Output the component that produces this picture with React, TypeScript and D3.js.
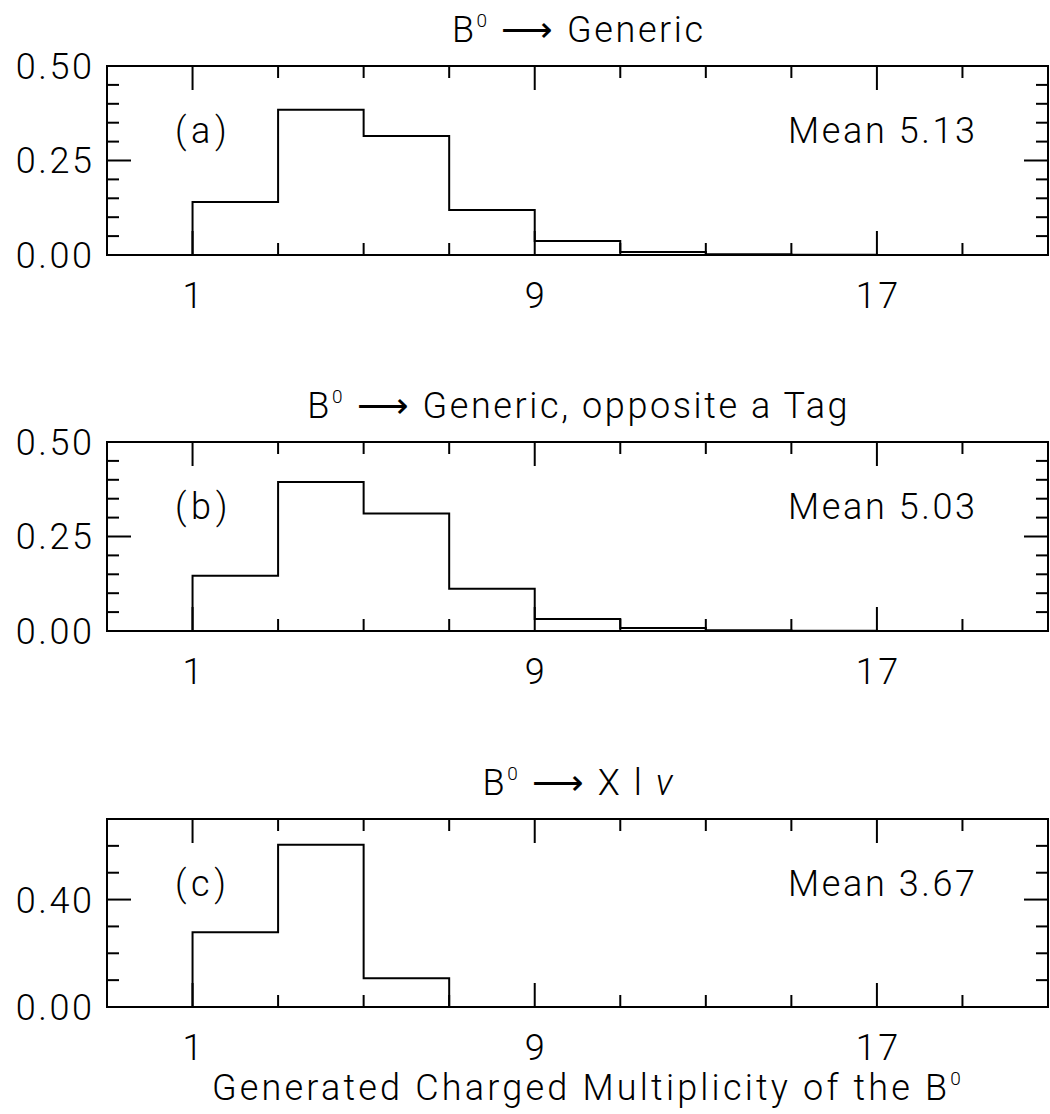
import React from "react";
import * as d3 from "d3";

const binStart = 1;
const binWidth = 2;
const valuesA = [0.14, 0.384, 0.315, 0.119, 0.037, 0.008, 0.002, 0.0005, 0, 0];
const valuesB = [0.146, 0.394, 0.311, 0.112, 0.032, 0.008, 0.002, 0.0005, 0, 0];
const valuesC = [0.278, 0.604, 0.107, 0, 0, 0, 0, 0, 0, 0];
const xTickMajor = [1, 9, 17];
const xTickAll = [1, 3, 5, 7, 9, 11, 13, 15, 17, 19];

const W = 1050;
const H = 1114;
const left = 107;
const right = 1048;
const FONT = "Roboto, 'Liberation Sans', sans-serif";
const FW = 300;
const LS = 2.6;

const x = d3.scaleLinear().domain([-1, 21]).range([left, right]);

type PanelProps = {
  top: number;
  bottom: number;
  values: number[];
  yMax: number;
  yMajor: number[];
  yMinorStep: number;
  yFmt: (v: number) => string;
  label: string;
  mean: string;
  title: React.ReactNode;
};

function Sup0() {
  return (
    <tspan dy={-15} fontSize={19}>
      0
    </tspan>
  );
}

function Panel(p: PanelProps) {
  const y = d3.scaleLinear().domain([0, p.yMax]).range([p.bottom, p.top]);
  const pts: [number, number][] = [[-1, 0]];
  p.values.forEach((v, i) => pts.push([binStart + i * binWidth, v]));
  pts.push([binStart + p.values.length * binWidth, p.values[p.values.length - 1]]);
  const line = d3
    .line<[number, number]>()
    .x((d) => x(d[0]))
    .y((d) => y(d[1]))
    .curve(d3.curveStepAfter);
  const nMinor = Math.round(p.yMax / p.yMinorStep);
  const yMinor = d3
    .range(1, nMinor + 1)
    .map((i) => +(i * p.yMinorStep).toFixed(4))
    .filter((v) => v < p.yMax - 1e-6);
  const isMajorY = (v: number) => p.yMajor.some((m) => Math.abs(m - v) < 1e-6);
  const major = 24;
  const minor = 12;
  return (
    <g>
      <text
        x={(left + right) / 2 + LS / 2}
        y={p.top - 24}
        textAnchor="middle"
        fontSize={36}
        fontFamily={FONT}
        fontWeight={FW}
        letterSpacing={LS}
      >
        {p.title}
      </text>
      <g stroke="#000" strokeWidth={2}>
        {xTickAll.map((t) => {
          const L = xTickMajor.includes(t) ? major : minor;
          return (
            <g key={t}>
              <line x1={x(t)} x2={x(t)} y1={p.bottom} y2={p.bottom - L} />
              <line x1={x(t)} x2={x(t)} y1={p.top} y2={p.top + L} />
            </g>
          );
        })}
        {yMinor.map((v) => {
          const L = isMajorY(v) ? major : minor;
          return (
            <g key={v}>
              <line x1={left} x2={left + L} y1={y(v)} y2={y(v)} />
              <line x1={right} x2={right - L} y1={y(v)} y2={y(v)} />
            </g>
          );
        })}
      </g>
      <path d={line(pts) || ""} fill="none" stroke="#000" strokeWidth={2} />
      <rect
        x={left}
        y={p.top}
        width={right - left}
        height={p.bottom - p.top}
        fill="none"
        stroke="#000"
        strokeWidth={2}
      />
      {p.yMajor.map((v) => (
        <text
          key={v}
          x={92 + LS}
          y={y(v)}
          dy="0.36em"
          textAnchor="end"
          fontSize={36}
          fontFamily={FONT}
          fontWeight={FW}
          letterSpacing={LS}
        >
          {p.yFmt(v)}
        </text>
      ))}
      {xTickMajor.map((t) => (
        <text
          key={t}
          x={x(t) + LS / 2}
          y={p.bottom + 53}
          textAnchor="middle"
          fontSize={36}
          fontFamily={FONT}
          fontWeight={FW}
          letterSpacing={LS}
        >
          {t}
        </text>
      ))}
      <text x={175} y={p.top + 77} fontSize={36} fontFamily={FONT} fontWeight={FW} letterSpacing={LS + 2}>
        {p.label}
      </text>
      <text
        x={975 + LS}
        y={p.top + 77}
        textAnchor="end"
        fontSize={36}
        fontFamily={FONT}
        fontWeight={FW}
        letterSpacing={LS}
      >
        {p.mean}
      </text>
    </g>
  );
}

export default function App() {
  const fmt2 = d3.format(".2f");
  return (
    <svg width={W} height={H} style={{ position: "absolute", left: 0, top: 0, background: "#fff" }}>
      <rect width={W} height={H} fill="#fff" />
      <Panel
        top={66}
        bottom={255}
        values={valuesA}
        yMax={0.5}
        yMajor={[0, 0.25, 0.5]}
        yMinorStep={0.05}
        yFmt={fmt2}
        label="(a)"
        mean="Mean 5.13"
        title={
          <>
            B<Sup0 />
            <tspan dy={15}>{"  ⟶  Generic"}</tspan>
          </>
        }
      />
      <Panel
        top={442}
        bottom={631}
        values={valuesB}
        yMax={0.5}
        yMajor={[0, 0.25, 0.5]}
        yMinorStep={0.05}
        yFmt={fmt2}
        label="(b)"
        mean="Mean 5.03"
        title={
          <>
            B<Sup0 />
            <tspan dy={15}>{"  ⟶  Generic, opposite a Tag"}</tspan>
          </>
        }
      />
      <Panel
        top={819}
        bottom={1007}
        values={valuesC}
        yMax={0.7}
        yMajor={[0, 0.4]}
        yMinorStep={0.1}
        yFmt={fmt2}
        label="(c)"
        mean="Mean 3.67"
        title={
          <>
            B<Sup0 />
            <tspan dy={15}>{"  ⟶  X l "}</tspan>
            <tspan fontStyle="italic">ν</tspan>
          </>
        }
      />
      <text
        x={588}
        y={1100}
        textAnchor="middle"
        fontSize={36}
        fontFamily={FONT}
        fontWeight={FW}
        letterSpacing={3.2}
      >
        Generated Charged Multiplicity of the B<Sup0 />
      </text>
    </svg>
  );
}
